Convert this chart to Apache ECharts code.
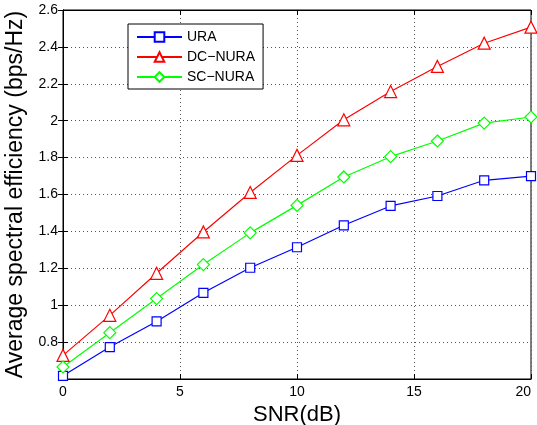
<!DOCTYPE html>
<html>
<head>
<meta charset="utf-8">
<script src="https://cdn.jsdelivr.net/npm/echarts@6/dist/echarts.min.js"></script>
<style>
  html, body { margin: 0; padding: 0; background: #fff; }
  #main { width: 537px; height: 425px; }
</style>
</head>
<body>
<div id="main"></div>
<script>
// data
var snr = [0, 2, 4, 6, 8, 10, 12, 14, 16, 18, 20];
var ura = [0.617, 0.773, 0.912, 1.067, 1.203, 1.314, 1.433, 1.538, 1.592, 1.677, 1.700];
var dcNura = [0.728, 0.945, 1.173, 1.397, 1.611, 1.812, 2.005, 2.158, 2.294, 2.420, 2.507];
var scNura = [0.665, 0.851, 1.036, 1.220, 1.392, 1.541, 1.695, 1.805, 1.890, 1.987, 2.020];

function pairs(ys) {
  var out = [];
  for (var i = 0; i < snr.length; i++) {
    out.push([snr[i], ys[i]]);
  }
  return out;
}

var font = 'Liberation Sans, Arial, Helvetica, sans-serif';
var dotted = { color: '#555', width: 1, type: [1, 3] };

var chart = echarts.init(document.getElementById('main'));
chart.setOption({
  animation: false,
  textStyle: { fontFamily: font },
  grid: {
    left: 63, right: 6, top: 10, bottom: 46,
    containLabel: false,
    outerBoundsMode: 'none',
    show: true, borderColor: '#000', borderWidth: 1
  },
  legend: {
    orient: 'vertical',
    left: 128, top: 24,
    width: 134,
    padding: [6, 8, 5, 8],
    itemGap: 6,
    itemWidth: 45, itemHeight: 12,
    backgroundColor: '#fff',
    borderColor: '#000', borderWidth: 1,
    textStyle: { fontSize: 14, color: '#000', fontFamily: font },
    data: ['URA', 'DC\u2212NURA', 'SC\u2212NURA']
  },
  xAxis: [{
    type: 'value',
    min: 0, max: 20, interval: 5,
    name: 'SNR(dB)',
    nameLocation: 'middle',
    nameGap: 21,
    nameTextStyle: { fontSize: 22, color: '#000', fontFamily: font },
    axisLine: { lineStyle: { color: '#000', width: 1 } },
    axisTick: { inside: true, length: 5, lineStyle: { color: '#000' } },
    axisLabel: { fontSize: 14, color: '#000', margin: 6, alignMaxLabel: 'right' },
    splitLine: { show: true, lineStyle: dotted }
  }, {
    type: 'value', position: 'top',
    min: 0, max: 20, interval: 5,
    axisLine: { show: true, lineStyle: { color: '#000' } },
    axisTick: { inside: true, length: 5, lineStyle: { color: '#000' } },
    axisLabel: { show: false },
    splitLine: { show: false }
  }],
  yAxis: [{
    type: 'value',
    min: 0.6, max: 2.6, interval: 0.2,
    name: 'Average spectral efficiency (bps/Hz)',
    nameLocation: 'middle',
    nameGap: 31,
    nameTextStyle: { fontSize: 23, color: '#000', fontFamily: font },
    axisLine: { lineStyle: { color: '#000', width: 1 } },
    axisTick: { inside: true, length: 5, lineStyle: { color: '#000' } },
    axisLabel: {
      fontSize: 14, color: '#000', margin: 5, showMinLabel: false,
      formatter: function (v) { return String(Math.round(v * 10) / 10); }
    },
    splitLine: { show: true, lineStyle: dotted }
  }, {
    type: 'value', position: 'right',
    min: 0.6, max: 2.6, interval: 0.2,
    axisLine: { show: true, lineStyle: { color: '#000' } },
    axisTick: { inside: true, length: 5, lineStyle: { color: '#000' } },
    axisLabel: { show: false },
    splitLine: { show: false }
  }],
  series: [{
    name: 'URA',
    type: 'line',
    data: pairs(ura),
    symbol: 'rect',
    symbolSize: 9,
    lineStyle: { color: '#0000ff', width: 1.2 },
    itemStyle: { color: '#fff', borderColor: '#0000ff', borderWidth: 1.2 }
  }, {
    name: 'DC\u2212NURA',
    type: 'line',
    data: pairs(dcNura),
    symbol: 'triangle',
    symbolSize: 12,
    lineStyle: { color: '#ff0000', width: 1.2 },
    itemStyle: { color: '#fff', borderColor: '#ff0000', borderWidth: 1.2 }
  }, {
    name: 'SC\u2212NURA',
    type: 'line',
    data: pairs(scNura),
    symbol: 'diamond',
    symbolSize: 12,
    lineStyle: { color: '#00ff00', width: 1.2 },
    itemStyle: { color: '#fff', borderColor: '#00ff00', borderWidth: 1.2 }
  }]
});
</script>
</body>
</html>
